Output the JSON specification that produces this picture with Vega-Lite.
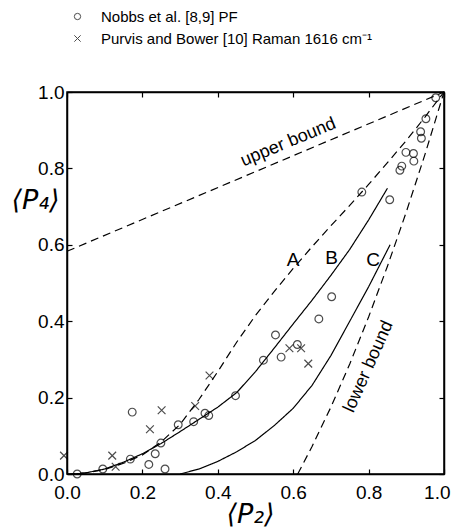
{
  "$schema": "https://vega.github.io/schema/vega-lite/v6.json",
  "width": 377,
  "height": 382,
  "autosize": {"type": "none"},
  "padding": {"left": 67, "top": 92, "right": 8, "bottom": 58},
  "background": "white",
  "config": {
    "view": {"stroke": "black", "strokeWidth": 1.5},
    "font": "Liberation Sans",
    "axis": {
      "grid": false,
      "domainColor": "black",
      "domainWidth": 1.5,
      "tickColor": "black",
      "tickWidth": 1.2,
      "labelColor": "black",
      "titleColor": "black",
      "labelFont": "Liberation Sans",
      "labelFontSize": 19,
      "titleFont": "DejaVu Sans",
      "titleFontSize": 27,
      "titleFontStyle": "italic",
      "titleFontWeight": "normal"
    }
  },
  "datasets": {
    "points": [
      {"s": "Nobbs et al. [8,9] PF", "x": 0.027, "y": 0.0},
      {"s": "Nobbs et al. [8,9] PF", "x": 0.095, "y": 0.013},
      {"s": "Nobbs et al. [8,9] PF", "x": 0.168, "y": 0.039},
      {"s": "Nobbs et al. [8,9] PF", "x": 0.173, "y": 0.162},
      {"s": "Nobbs et al. [8,9] PF", "x": 0.217, "y": 0.025},
      {"s": "Nobbs et al. [8,9] PF", "x": 0.234, "y": 0.053},
      {"s": "Nobbs et al. [8,9] PF", "x": 0.249, "y": 0.081},
      {"s": "Nobbs et al. [8,9] PF", "x": 0.26, "y": 0.013},
      {"s": "Nobbs et al. [8,9] PF", "x": 0.295, "y": 0.129},
      {"s": "Nobbs et al. [8,9] PF", "x": 0.336, "y": 0.137},
      {"s": "Nobbs et al. [8,9] PF", "x": 0.366, "y": 0.159},
      {"s": "Nobbs et al. [8,9] PF", "x": 0.376, "y": 0.153},
      {"s": "Nobbs et al. [8,9] PF", "x": 0.447, "y": 0.205},
      {"s": "Nobbs et al. [8,9] PF", "x": 0.521, "y": 0.298},
      {"s": "Nobbs et al. [8,9] PF", "x": 0.553, "y": 0.364},
      {"s": "Nobbs et al. [8,9] PF", "x": 0.568, "y": 0.306},
      {"s": "Nobbs et al. [8,9] PF", "x": 0.611, "y": 0.339},
      {"s": "Nobbs et al. [8,9] PF", "x": 0.668, "y": 0.406},
      {"s": "Nobbs et al. [8,9] PF", "x": 0.702, "y": 0.464},
      {"s": "Nobbs et al. [8,9] PF", "x": 0.782, "y": 0.738},
      {"s": "Nobbs et al. [8,9] PF", "x": 0.856, "y": 0.718},
      {"s": "Nobbs et al. [8,9] PF", "x": 0.883, "y": 0.795},
      {"s": "Nobbs et al. [8,9] PF", "x": 0.888, "y": 0.806},
      {"s": "Nobbs et al. [8,9] PF", "x": 0.899, "y": 0.842},
      {"s": "Nobbs et al. [8,9] PF", "x": 0.919, "y": 0.839},
      {"s": "Nobbs et al. [8,9] PF", "x": 0.92, "y": 0.819},
      {"s": "Nobbs et al. [8,9] PF", "x": 0.938, "y": 0.896},
      {"s": "Nobbs et al. [8,9] PF", "x": 0.94, "y": 0.879},
      {"s": "Nobbs et al. [8,9] PF", "x": 0.952, "y": 0.93},
      {"s": "Nobbs et al. [8,9] PF", "x": 0.978, "y": 0.985},
      {"s": "Purvis and Bower [10]  Raman 1616 cm⁻¹", "x": -0.008, "y": 0.048},
      {"s": "Purvis and Bower [10]  Raman 1616 cm⁻¹", "x": 0.12, "y": 0.048},
      {"s": "Purvis and Bower [10]  Raman 1616 cm⁻¹", "x": 0.129, "y": 0.019},
      {"s": "Purvis and Bower [10]  Raman 1616 cm⁻¹", "x": 0.22, "y": 0.117},
      {"s": "Purvis and Bower [10]  Raman 1616 cm⁻¹", "x": 0.251, "y": 0.167},
      {"s": "Purvis and Bower [10]  Raman 1616 cm⁻¹", "x": 0.34, "y": 0.178},
      {"s": "Purvis and Bower [10]  Raman 1616 cm⁻¹", "x": 0.378, "y": 0.258},
      {"s": "Purvis and Bower [10]  Raman 1616 cm⁻¹", "x": 0.59, "y": 0.329},
      {"s": "Purvis and Bower [10]  Raman 1616 cm⁻¹", "x": 0.621, "y": 0.329},
      {"s": "Purvis and Bower [10]  Raman 1616 cm⁻¹", "x": 0.64, "y": 0.289}
    ],
    "curves": [
      {"c": "upper", "d": "dashed", "x": 0.0, "y": 0.583},
      {"c": "upper", "d": "dashed", "x": 1.0, "y": 1.0},
      {"c": "lower", "d": "dashed", "x": 0.612, "y": 0.0},
      {"c": "lower", "d": "dashed", "x": 0.65, "y": 0.072},
      {"c": "lower", "d": "dashed", "x": 0.7, "y": 0.175},
      {"c": "lower", "d": "dashed", "x": 0.75, "y": 0.288},
      {"c": "lower", "d": "dashed", "x": 0.8, "y": 0.411},
      {"c": "lower", "d": "dashed", "x": 0.85, "y": 0.544},
      {"c": "lower", "d": "dashed", "x": 0.9, "y": 0.686},
      {"c": "lower", "d": "dashed", "x": 0.95, "y": 0.838},
      {"c": "lower", "d": "dashed", "x": 1.0, "y": 1.0},
      {"c": "A", "d": "dashed", "x": 0.0, "y": 0.0},
      {"c": "A", "d": "dashed", "x": 0.05, "y": 0.003},
      {"c": "A", "d": "dashed", "x": 0.1, "y": 0.012},
      {"c": "A", "d": "dashed", "x": 0.15, "y": 0.028},
      {"c": "A", "d": "dashed", "x": 0.2, "y": 0.05},
      {"c": "A", "d": "dashed", "x": 0.25, "y": 0.084},
      {"c": "A", "d": "dashed", "x": 0.3, "y": 0.13},
      {"c": "A", "d": "dashed", "x": 0.35, "y": 0.195},
      {"c": "A", "d": "dashed", "x": 0.4, "y": 0.268},
      {"c": "A", "d": "dashed", "x": 0.45, "y": 0.345},
      {"c": "A", "d": "dashed", "x": 0.5, "y": 0.415},
      {"c": "A", "d": "dashed", "x": 0.55, "y": 0.478},
      {"c": "A", "d": "dashed", "x": 0.6, "y": 0.538},
      {"c": "A", "d": "dashed", "x": 0.65, "y": 0.595},
      {"c": "A", "d": "dashed", "x": 0.7, "y": 0.65},
      {"c": "A", "d": "dashed", "x": 0.75, "y": 0.703},
      {"c": "A", "d": "dashed", "x": 0.8, "y": 0.758},
      {"c": "A", "d": "dashed", "x": 0.85, "y": 0.815},
      {"c": "A", "d": "dashed", "x": 0.9, "y": 0.873},
      {"c": "A", "d": "dashed", "x": 0.95, "y": 0.935},
      {"c": "A", "d": "dashed", "x": 1.0, "y": 1.0},
      {"c": "B", "d": "solid", "x": 0.02, "y": 0.0},
      {"c": "B", "d": "solid", "x": 0.05, "y": 0.003},
      {"c": "B", "d": "solid", "x": 0.1, "y": 0.013},
      {"c": "B", "d": "solid", "x": 0.15, "y": 0.031},
      {"c": "B", "d": "solid", "x": 0.2, "y": 0.053},
      {"c": "B", "d": "solid", "x": 0.25, "y": 0.08},
      {"c": "B", "d": "solid", "x": 0.3, "y": 0.111},
      {"c": "B", "d": "solid", "x": 0.35, "y": 0.143},
      {"c": "B", "d": "solid", "x": 0.4, "y": 0.175},
      {"c": "B", "d": "solid", "x": 0.45, "y": 0.213},
      {"c": "B", "d": "solid", "x": 0.5, "y": 0.268},
      {"c": "B", "d": "solid", "x": 0.55, "y": 0.33},
      {"c": "B", "d": "solid", "x": 0.6, "y": 0.393},
      {"c": "B", "d": "solid", "x": 0.65, "y": 0.455},
      {"c": "B", "d": "solid", "x": 0.7, "y": 0.52},
      {"c": "B", "d": "solid", "x": 0.75, "y": 0.588},
      {"c": "B", "d": "solid", "x": 0.8, "y": 0.665},
      {"c": "B", "d": "solid", "x": 0.85, "y": 0.748},
      {"c": "C", "d": "solid", "x": 0.3, "y": 0.0},
      {"c": "C", "d": "solid", "x": 0.35, "y": 0.013},
      {"c": "C", "d": "solid", "x": 0.4, "y": 0.033},
      {"c": "C", "d": "solid", "x": 0.45, "y": 0.058},
      {"c": "C", "d": "solid", "x": 0.5, "y": 0.088},
      {"c": "C", "d": "solid", "x": 0.55, "y": 0.127},
      {"c": "C", "d": "solid", "x": 0.6, "y": 0.172},
      {"c": "C", "d": "solid", "x": 0.65, "y": 0.232},
      {"c": "C", "d": "solid", "x": 0.7, "y": 0.31},
      {"c": "C", "d": "solid", "x": 0.75, "y": 0.4},
      {"c": "C", "d": "solid", "x": 0.8, "y": 0.49},
      {"c": "C", "d": "solid", "x": 0.857, "y": 0.6}
    ],
    "labels": [
      {"t": "A", "x": 0.6, "y": 0.56, "a": 0, "f": 19},
      {"t": "B", "x": 0.702, "y": 0.565, "a": 0, "f": 19},
      {"t": "C", "x": 0.812, "y": 0.56, "a": 0, "f": 19},
      {"t": "upper bound", "x": 0.587, "y": 0.868, "a": -22.5, "f": 18},
      {"t": "lower bound", "x": 0.8, "y": 0.281, "a": -66, "f": 18}
    ]
  },
  "layer": [
    {
      "data": {"name": "points"},
      "mark": {"type": "point", "filled": false, "stroke": "black", "strokeWidth": 1.2, "size": 60},
      "encoding": {
        "x": {"field": "x", "type": "quantitative", "scale": {"domain": [0, 1], "nice": false, "zero": false},
          "axis": {"orient": "bottom", "values": [0, 0.2, 0.4, 0.6, 0.8, 1.0], "format": ".1f", "tickSize": -5, "labelPadding": 14, "title": "⟨P₂⟩", "titleX": 183, "titleY": 40, "titleBaseline": "middle", "titleAlign": "center", "labelFlush": false,
            "labelAlign": {"condition": {"test": "datum.value == 1", "value": "right"}, "value": "center"},
            "labelOffset": {"condition": {"test": "datum.value == 1", "value": 6}, "value": 0}}},
        "y": {"field": "y", "type": "quantitative", "scale": {"domain": [0, 1], "nice": false, "zero": false},
          "axis": {"orient": "left", "values": [0, 0.2, 0.4, 0.6, 0.8, 1.0], "format": ".1f", "tickSize": -5, "labelPadding": 8, "title": "⟨P₄⟩", "titleAngle": 0, "titleX": -32, "titleY": 108, "titleBaseline": "middle", "titleAlign": "center", "labelFlush": false}},
        "shape": {"field": "s", "type": "nominal",
          "scale": {"domain": ["Nobbs et al. [8,9] PF", "Purvis and Bower [10]  Raman 1616 cm⁻¹"], "range": ["circle", "M-1,-1L1,1M1,-1L-1,1"]},
          "legend": {"orient": "none", "legendX": 3, "legendY": -83, "title": null, "labelFont": "Liberation Sans", "labelFontSize": 15, "labelColor": "black", "labelOffset": 16, "labelLimit": 0, "rowPadding": 6, "symbolSize": 40, "symbolStrokeColor": "black", "symbolStrokeWidth": 1}}
      }
    },
    {
      "data": {"name": "curves"},
      "mark": {"type": "line", "stroke": "black", "strokeWidth": 1.2},
      "encoding": {
        "x": {"field": "x", "type": "quantitative", "scale": {"domain": [0, 1], "nice": false, "zero": false},
          "axis": {"orient": "top", "values": [0, 0.2, 0.4, 0.6, 0.8, 1.0], "labels": false, "tickSize": -5, "title": null}},
        "y": {"field": "y", "type": "quantitative", "scale": {"domain": [0, 1], "nice": false, "zero": false},
          "axis": {"orient": "right", "values": [0, 0.2, 0.4, 0.6, 0.8, 1.0], "labels": false, "tickSize": -5, "title": null}},
        "detail": {"field": "c", "type": "nominal"},
        "strokeDash": {"field": "d", "type": "nominal", "scale": {"domain": ["solid", "dashed"], "range": [[1, 0], [8, 5]]}, "legend": null}
      }
    },
    {
      "data": {"name": "labels"},
      "mark": {"type": "text", "font": "Liberation Sans", "color": "black", "align": "center", "baseline": "middle"},
      "encoding": {
        "x": {"field": "x", "type": "quantitative", "scale": {"domain": [0, 1], "nice": false, "zero": false}, "axis": null},
        "y": {"field": "y", "type": "quantitative", "scale": {"domain": [0, 1], "nice": false, "zero": false}, "axis": null},
        "text": {"field": "t"},
        "angle": {"field": "a", "type": "quantitative", "scale": null},
        "size": {"field": "f", "type": "quantitative", "scale": null}
      }
    }
  ],
  "resolve": {"axis": {"x": "independent", "y": "independent"}}
}
